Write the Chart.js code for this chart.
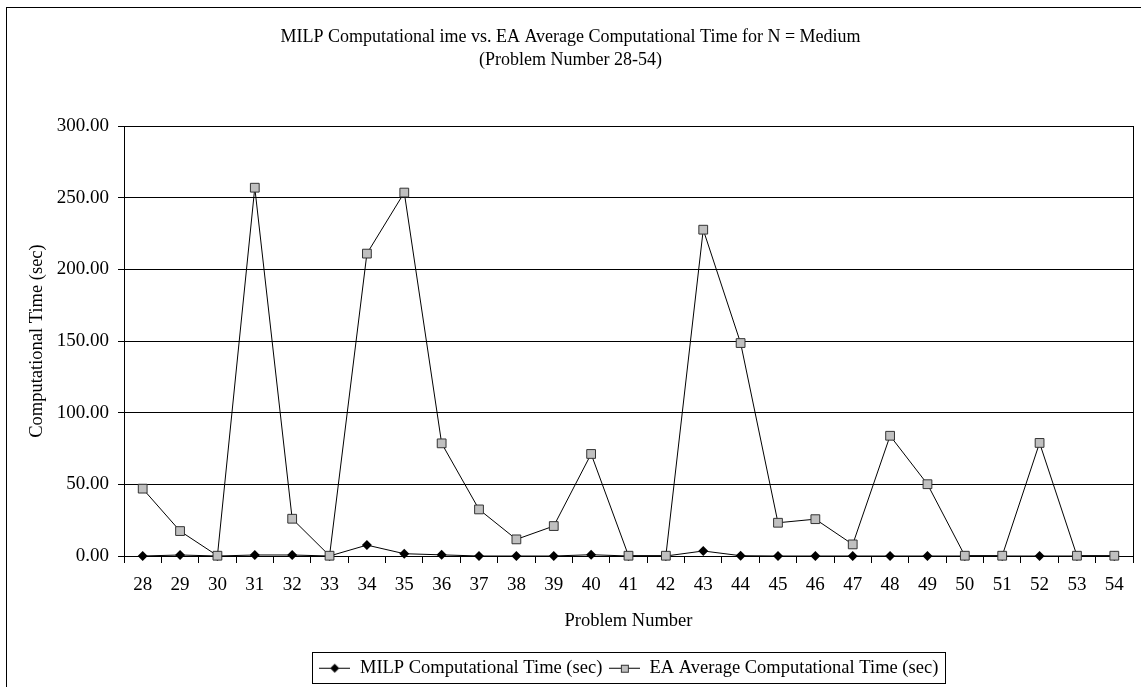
<!DOCTYPE html>
<html>
<head>
<meta charset="utf-8">
<script src="https://cdn.jsdelivr.net/npm/chart.js@4.4.1/dist/chart.umd.min.js"></script>
<style>
  html, body { margin: 0; padding: 0; background: #fff; }
  #wrap { width: 1141px; height: 687px; }
</style>
</head>
<body>
<div id="wrap"><canvas id="chart" width="1141" height="687"></canvas></div>
<script>
// Problem numbers on the category axis
const problemNumbers = ['28','29','30','31','32','33','34','35','36','37','38','39','40','41',
                        '42','43','44','45','46','47','48','49','50','51','52','53','54'];

// MILP computational time (sec)
const milpTime = [0, 0.7, 0, 0.7, 0.7, 0, 7.6, 1.6, 0.8, 0, 0, 0, 0.9, 0,
                  0, 3.5, 0.2, 0, 0, 0, 0, 0, 0, 0, 0, 0, 0];

// EA average computational time (sec)
const eaAvgTime = [47.0, 17.4, 0.2, 257.0, 26.0, 0.2, 211.0, 253.6, 78.6, 32.5, 11.6, 20.9, 71.2, 0.2,
                   0.2, 227.7, 148.6, 23.2, 25.7, 8.1, 83.9, 50.1, 0.2, 0.2, 78.9, 0.2, 0.2];

// Value axis ticks
const yTickValues = [0, 50, 100, 150, 200, 250, 300];

const titleLines = ['MILP Computational ime vs. EA Average Computational Time for N = Medium',
                    '(Problem Number 28-54)'];
const seriesNames = ['MILP Computational Time (sec)', 'EA Average Computational Time (sec)'];

const FONT = 'Liberation Serif, Times New Roman, serif';

// small "line + marker" swatches for the legend
function legendSwatch(kind) {
  const c = document.createElement('canvas');
  c.width = 31; c.height = 12;
  const g = c.getContext('2d');
  g.strokeStyle = '#000';
  g.lineWidth = 1;
  g.beginPath(); g.moveTo(0, 6.5); g.lineTo(31, 6.5); g.stroke();
  if (kind === 'diamond') {
    g.fillStyle = '#000';
    g.beginPath();
    g.moveTo(15.5, 2); g.lineTo(20, 6.5); g.lineTo(15.5, 11); g.lineTo(11, 6.5);
    g.closePath(); g.fill();
  } else {
    g.fillStyle = '#c0c0c0';
    g.fillRect(12, 3, 8, 8);
    g.strokeStyle = '#333';
    g.strokeRect(12.5, 3.5, 7, 7);
  }
  return c;
}
const swatches = [legendSwatch('diamond'), legendSwatch('square')];

// outer frame, plot-area right edge and the legend box
const framePlugin = {
  id: 'frame',
  beforeDraw(chart) {
    const ctx = chart.ctx;
    ctx.save();
    ctx.fillStyle = '#fff';
    ctx.fillRect(0, 0, chart.width, chart.height);
    ctx.restore();
  },
  afterLayout(chart) {
    // center the legend under the plot area
    const lg = chart.legend, a = chart.chartArea;
    if (lg && a) { lg.left = a.left; lg.right = a.right; lg.width = a.right - a.left; }
  },
  afterDraw(chart) {
    const ctx = chart.ctx;
    const a = chart.chartArea;
    ctx.save();
    ctx.strokeStyle = '#000';
    ctx.lineWidth = 1;
    ctx.strokeRect(6.5, 7.5, 1300, 900);
    const rx = Math.round(a.right) + 0.5;
    ctx.beginPath(); ctx.moveTo(rx, Math.round(a.top)); ctx.lineTo(rx, Math.round(a.bottom) + 1); ctx.stroke();
    const hb = chart.legend.legendHitBoxes;
    if (hb && hb.length) {
      const left = Math.round(Math.min(...hb.map(b => b.left)) - 7) + 0.5;
      const right = Math.round(Math.max(...hb.map(b => b.left + b.width)) + 7) + 0.5;
      const cy = hb[0].top + hb[0].height / 2;
      const top = Math.round(cy - 15.5) + 0.5;
      const bottom = Math.round(cy + 15.5) + 0.5;
      ctx.strokeRect(left, top, right - left, bottom - top);
    }
    ctx.restore();
  }
};

new Chart(document.getElementById('chart'), {
  type: 'line',
  data: {
    labels: problemNumbers,
    datasets: [
      {
        label: seriesNames[0],
        data: milpTime,
        borderColor: '#000',
        borderWidth: 1,
        pointStyle: 'rectRot',
        pointRadius: 5,
        pointBackgroundColor: '#000',
        pointBorderColor: '#000',
        pointBorderWidth: 0,
        tension: 0,
        clip: false,
        order: 1
      },
      {
        label: seriesNames[1],
        data: eaAvgTime,
        borderColor: '#000',
        borderWidth: 1,
        pointStyle: 'rect',
        pointRadius: 6.2,
        pointBackgroundColor: '#c0c0c0',
        pointBorderColor: '#333',
        pointBorderWidth: 1,
        tension: 0,
        clip: false,
        order: 0
      }
    ]
  },
  options: {
    responsive: false,
    animation: false,
    devicePixelRatio: 1,
    layout: { padding: { left: 8, right: 8, top: 8, bottom: 0 } },
    plugins: {
      tooltip: { enabled: false },
      title: {
        display: true,
        text: titleLines,
        color: '#000',
        font: { family: FONT, size: 18, weight: 'normal', lineHeight: 1.28 },
        padding: { top: 17.5, bottom: 54.5 }
      },
      legend: {
        display: true,
        position: 'bottom',
        labels: {
          color: '#000',
          font: { family: FONT, size: 18.5 },
          usePointStyle: true,
          pointStyleWidth: 32,
          padding: 6,
          generateLabels: (chart) => chart.data.datasets.map((ds, i) => ({
            text: ds.label,
            datasetIndex: i,
            pointStyle: swatches[i],
            fillStyle: 'transparent',
            strokeStyle: 'transparent',
            lineWidth: 0,
            hidden: false,
            fontColor: '#000'
          }))
        }
      }
    },
    scales: {
      x: {
        type: 'category',
        offset: true,
        grid: {
          offset: true,
          drawOnChartArea: false,
          drawTicks: true,
          tickLength: 7,
          color: '#000'
        },
        border: { display: true, color: '#000', width: 1 },
        ticks: {
          color: '#000',
          font: { family: FONT, size: 19 },
          autoSkip: false,
          maxRotation: 0,
          padding: 11
        },
        title: {
          display: true,
          text: 'Problem Number',
          color: '#000',
          font: { family: FONT, size: 18.5 },
          padding: { top: 0, bottom: 20 }
        },
        afterFit(scale) { scale.height = 96.5; }
      },
      y: {
        min: yTickValues[0],
        max: yTickValues[yTickValues.length - 1],
        afterBuildTicks(scale) { scale.ticks = yTickValues.map(v => ({ value: v })); },
        grid: { color: '#000', tickLength: 6, lineWidth: 1 },
        border: { display: true, color: '#000', width: 1 },
        ticks: {
          color: '#000',
          font: { family: FONT, size: 19 },
          padding: 9,
          callback: (v) => Number(v).toFixed(2)
        },
        title: {
          display: true,
          text: 'Computational Time (sec)',
          color: '#000',
          font: { family: FONT, size: 18.5 },
          padding: { top: 18, bottom: 0 }
        },
        afterFit(scale) { scale.width = 116; }
      }
    }
  },
  plugins: [framePlugin]
});
</script>
</body>
</html>
